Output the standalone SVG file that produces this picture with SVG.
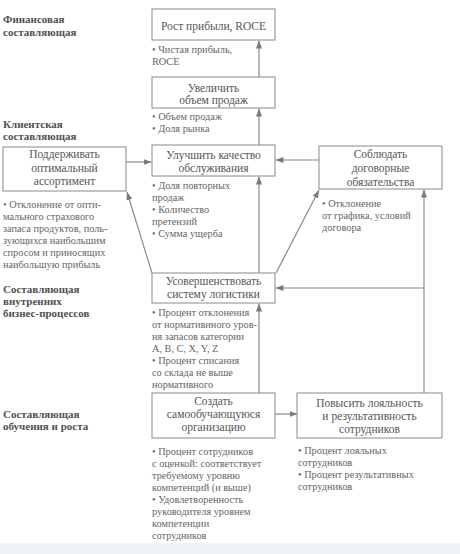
<svg xmlns="http://www.w3.org/2000/svg" width="460" height="554" viewBox="0 0 460 554">
<defs>
<marker id="ah" viewBox="0 0 8 6" refX="8" refY="3" markerWidth="8" markerHeight="6" markerUnits="userSpaceOnUse" orient="auto">
<path d="M0,0 L8,3 L0,6 Z" fill="#7a7a7a"/>
</marker>
<style>
text{font-family:'Liberation Serif','Times New Roman',serif}
.box{fill:#fff;stroke:#8a8a8a;stroke-width:1}
.bt{font-size:11.5px;fill:#555;text-anchor:middle}
.bl{font-size:10.3px;fill:#666}
.lab{font-size:11px;font-weight:bold;fill:#505050}
.ca{fill:none;stroke:#8a8a8a;stroke-width:1.2;marker-end:url(#ah)}
</style>
</defs>
<rect x="0" y="0" width="460" height="554" fill="#fff"/>
<rect x="0" y="543" width="460" height="11" fill="#eff3f8"/>

<g id="labels">
<text class="lab" x="3" y="23">Финансовая</text>
<text class="lab" x="3" y="36">составляющая</text>
<text class="lab" x="3" y="128">Клиентская</text>
<text class="lab" x="3" y="140">составляющая</text>
<text class="lab" x="3" y="293">Составляющая</text>
<text class="lab" x="3" y="305">внутренних</text>
<text class="lab" x="3" y="317">бизнес-процессов</text>
<text class="lab" x="3" y="418">Составляющая</text>
<text class="lab" x="3" y="430">обучения и роста</text>
</g>

<g id="connectors">
<line class="ca" x1="259" y1="77" x2="259" y2="40.5"/>
<line class="ca" x1="259" y1="145" x2="259" y2="108.5"/>
<line class="ca" x1="126" y1="162" x2="151.5" y2="162"/>
<line class="ca" x1="319" y1="160" x2="275.5" y2="160"/>
<line class="ca" x1="259" y1="273" x2="259" y2="176.5"/>
<line class="ca" x1="152" y1="273" x2="127" y2="192"/>
<line class="ca" x1="276" y1="273" x2="319" y2="190"/>
<line class="ca" x1="424" y1="393" x2="424" y2="189.5"/>
<line class="ca" x1="424" y1="288" x2="275.5" y2="288"/>
<line class="ca" x1="259" y1="393" x2="259" y2="303.5"/>
<line class="ca" x1="275" y1="414" x2="297.5" y2="414"/>
</g>

<g id="n-profit">
<rect class="box" x="152" y="9" width="123" height="31"/>
<text class="bt" x="213.5" y="30">Рост прибыли, ROCE</text>
<text class="bl" x="152" y="53">• Чистая прибыль,</text>
<text class="bl" x="152" y="65">ROCE</text>
</g>

<g id="n-sales">
<rect class="box" x="152" y="77" width="123" height="31"/>
<text class="bt" x="213.5" y="92">Увеличить</text>
<text class="bt" x="213.5" y="104">объем продаж</text>
<text class="bl" x="152" y="120">• Объем продаж</text>
<text class="bl" x="152" y="132">• Доля рынка</text>
</g>

<g id="n-assort">
<rect class="box" x="3" y="147" width="123" height="44"/>
<text class="bt" x="64.5" y="158">Поддерживать</text>
<text class="bt" x="64.5" y="171.5">оптимальный</text>
<text class="bt" x="64.5" y="185">ассортимент</text>
<text class="bl" x="3" y="208">• Отклонение от опти-</text>
<text class="bl" x="3" y="220">мального страхового</text>
<text class="bl" x="3" y="232">запаса продуктов, поль-</text>
<text class="bl" x="3" y="244">зующихся наибольшим</text>
<text class="bl" x="3" y="256">спросом и приносящих</text>
<text class="bl" x="3" y="268">наибольшую прибыль</text>
</g>

<g id="n-service">
<rect class="box" x="152" y="145" width="123" height="31"/>
<text class="bt" x="213.5" y="159">Улучшить качество</text>
<text class="bt" x="213.5" y="172">обслуживания</text>
<text class="bl" x="152" y="189">• Доля повторных</text>
<text class="bl" x="152" y="201">продаж</text>
<text class="bl" x="152" y="213">• Количество</text>
<text class="bl" x="152" y="225">претензий</text>
<text class="bl" x="152" y="237">• Сумма ущерба</text>
</g>

<g id="n-contract">
<rect class="box" x="319" y="146" width="123" height="43"/>
<text class="bt" x="380.5" y="158">Соблюдать</text>
<text class="bt" x="380.5" y="172">договорные</text>
<text class="bt" x="380.5" y="186">обязательства</text>
<text class="bl" x="322" y="207">• Отклонение</text>
<text class="bl" x="322" y="219">от графика, условий</text>
<text class="bl" x="322" y="231">договора</text>
</g>

<g id="n-logistics">
<rect class="box" x="152" y="273" width="123" height="30"/>
<text class="bt" x="213.5" y="285">Усовершенствовать</text>
<text class="bt" x="213.5" y="298">систему логистики</text>
<text class="bl" x="152" y="316">• Процент отклонения</text>
<text class="bl" x="152" y="328">от нормативиного уров-</text>
<text class="bl" x="152" y="340">ня запасов категории</text>
<text class="bl" x="152" y="352">A, B, C, X, Y, Z</text>
<text class="bl" x="152" y="364">• Процент списания</text>
<text class="bl" x="152" y="376">со склада не выше</text>
<text class="bl" x="152" y="388">нормативного</text>
</g>

<g id="n-learning">
<rect class="box" x="152" y="393" width="123" height="45"/>
<text class="bt" x="213.5" y="405">Создать</text>
<text class="bt" x="213.5" y="418">самообучающуюся</text>
<text class="bt" x="213.5" y="431">организацию</text>
<text class="bl" x="152" y="455">• Процент сотрудников</text>
<text class="bl" x="152" y="467">с оценкой: соответствует</text>
<text class="bl" x="152" y="479">требуемому уровню</text>
<text class="bl" x="152" y="491">компетенций (и выше)</text>
<text class="bl" x="152" y="503">• Удовлетворенность</text>
<text class="bl" x="152" y="515">руководителя уровнем</text>
<text class="bl" x="152" y="527">компетенции</text>
<text class="bl" x="152" y="539">сотрудников</text>
</g>

<g id="n-loyalty">
<rect class="box" x="297" y="393" width="145" height="45"/>
<text class="bt" x="369.5" y="407">Повысить лояльность</text>
<text class="bt" x="369.5" y="420">и результативность</text>
<text class="bt" x="369.5" y="433">сотрудников</text>
<text class="bl" x="298" y="454">• Процент лояльных</text>
<text class="bl" x="298" y="466">сотрудников</text>
<text class="bl" x="298" y="478">• Процент результативных</text>
<text class="bl" x="298" y="490">сотрудников</text>
</g>
</svg>
